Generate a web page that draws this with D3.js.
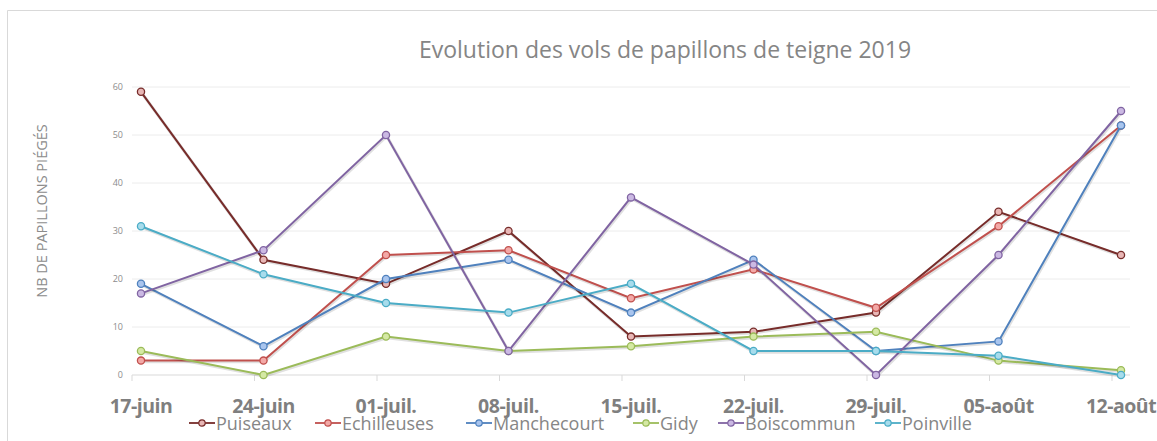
<!DOCTYPE html>
<html>
<head>
<meta charset="utf-8">
<script src="https://cdn.jsdelivr.net/npm/d3@7"></script>
<style>
  body { margin: 0; background: #fff; }
  text { font-family: "Open Sans", "Noto Sans", sans-serif; }
</style>
</head>
<body>
<svg width="1157" height="441"></svg>
<script>
const width = 1157;
const height = 441;

const dates = ["17-juin", "24-juin", "01-juil.", "08-juil.", "15-juil.", "22-juil.", "29-juil.", "05-août", "12-août"];
const yTicks = [0, 10, 20, 30, 40, 50, 60];

const sites = ["Puiseaux", "Echilleuses", "Manchecourt", "Gidy", "Boiscommun", "Poinville"];
const puiseaux = [59, 24, 19, 30, 8, 9, 13, 34, 25];
const echilleuses = [3, 3, 25, 26, 16, 22, 14, 31, 52];
const manchecourt = [19, 6, 20, 24, 13, 24, 5, 7, 52];
const gidy = [5, 0, 8, 5, 6, 8, 9, 3, 1];
const boiscommun = [17, 26, 50, 5, 37, 23, 0, 25, 55];
const poinville = [31, 21, 15, 13, 19, 5, 5, 4, 0];

const lineColors = ["#772c2a", "#c0504d", "#4f81bd", "#9bbb59", "#8064a2", "#4bacc6"];
const markerFills = ["#e8b7b6", "#f3a9a7", "#a9c5ee", "#d5e9a4", "#cbb9e3", "#a7dcec"];

const series = [puiseaux, echilleuses, manchecourt, gidy, boiscommun, poinville]
    .map((values, i) => ({ name: sites[i], values: values }));

const svg = d3.select("svg");

// frame
svg.append("path")
    .attr("d", "M1157,10.5 H7.5 V441")
    .attr("fill", "none")
    .attr("stroke", "#d9d9d9");

const x = d3.scalePoint().domain(dates).range([141, 1121]);
const y = d3.scaleLinear().domain([0, 60]).range([375, 87]);

// gridlines
svg.append("g")
    .selectAll("line")
    .data(yTicks.filter(d => d > 0))
    .join("line")
    .attr("x1", 132).attr("x2", 1130)
    .attr("y1", d => y(d)).attr("y2", d => y(d))
    .attr("stroke", "#ececec");

// y axis labels
const yAxis = svg.append("g")
    .attr("transform", "translate(128,0)")
    .call(d3.axisLeft(y).tickValues(yTicks).tickSize(0).tickPadding(5));
yAxis.select(".domain").remove();
yAxis.selectAll("text")
    .attr("fill", "#8c8c8c")
    .style("font-size", "9px");

// x axis line with tick marks between categories
svg.append("line")
    .attr("x1", 132).attr("x2", 1130)
    .attr("y1", y(0)).attr("y2", y(0))
    .attr("stroke", "#d9d9d9");
svg.append("g")
    .selectAll("line")
    .data(dates)
    .join("line")
    .attr("x1", d => x(d) - 9).attr("x2", d => x(d) - 9)
    .attr("y1", y(0)).attr("y2", y(0) + 6)
    .attr("stroke", "#d9d9d9");

svg.append("g")
    .selectAll("text")
    .data(dates)
    .join("text")
    .attr("x", d => x(d))
    .attr("y", 413)
    .attr("text-anchor", "middle")
    .attr("fill", "#7f7f7f")
    .style("font-size", "19.5px")
    .style("font-weight", "bold")
    .style("letter-spacing", "-0.5px")
    .text(d => d);

// title
svg.append("text")
    .attr("x", 665)
    .attr("y", 58)
    .attr("text-anchor", "middle")
    .attr("fill", "#858585")
    .style("font-size", "23px")
    .text("Evolution des vols de papillons de teigne 2019");

// y axis title
svg.append("text")
    .attr("transform", "translate(47,211) rotate(-90)")
    .attr("text-anchor", "middle")
    .attr("fill", "#8c8c8c")
    .style("font-size", "14.5px")
    .text("NB  DE PAPILLONS PIÉGÉS");

// lines
const line = d3.line()
    .x((d, i) => x(dates[i]))
    .y(d => y(d));

const g = svg.append("g");
series.forEach((s, k) => {
    g.append("path")
        .datum(s.values)
        .attr("fill", "none")
        .attr("stroke", "#000")
        .attr("stroke-opacity", 0.12)
        .attr("stroke-width", 3)
        .attr("transform", "translate(0.8,1.2)")
        .attr("d", line);
    g.append("path")
        .datum(s.values)
        .attr("fill", "none")
        .attr("stroke", lineColors[k])
        .attr("stroke-width", 2)
        .attr("d", line);
    g.selectAll(null)
        .data(s.values)
        .join("circle")
        .attr("cx", (d, i) => x(dates[i]))
        .attr("cy", d => y(d))
        .attr("r", 3.6)
        .attr("fill", markerFills[k])
        .attr("stroke", lineColors[k])
        .attr("stroke-width", 1.3);
});

// legend
const legendX = [189, 315, 466, 633, 718, 875];
const legend = svg.append("g")
    .selectAll("g")
    .data(series)
    .join("g")
    .attr("transform", (d, i) => `translate(${legendX[i]},423)`);
legend.append("line")
    .attr("x1", 0).attr("x2", 26)
    .attr("stroke", (d, i) => lineColors[i])
    .attr("stroke-width", 1.8);
legend.append("circle")
    .attr("cx", 13)
    .attr("r", 3.2)
    .attr("fill", (d, i) => markerFills[i])
    .attr("stroke", (d, i) => lineColors[i])
    .attr("stroke-width", 1.2);
legend.append("text")
    .attr("x", 27)
    .attr("y", 7)
    .attr("fill", "#868686")
    .style("font-size", "18px")
    .text(d => d.name);
</script>
</body>
</html>
